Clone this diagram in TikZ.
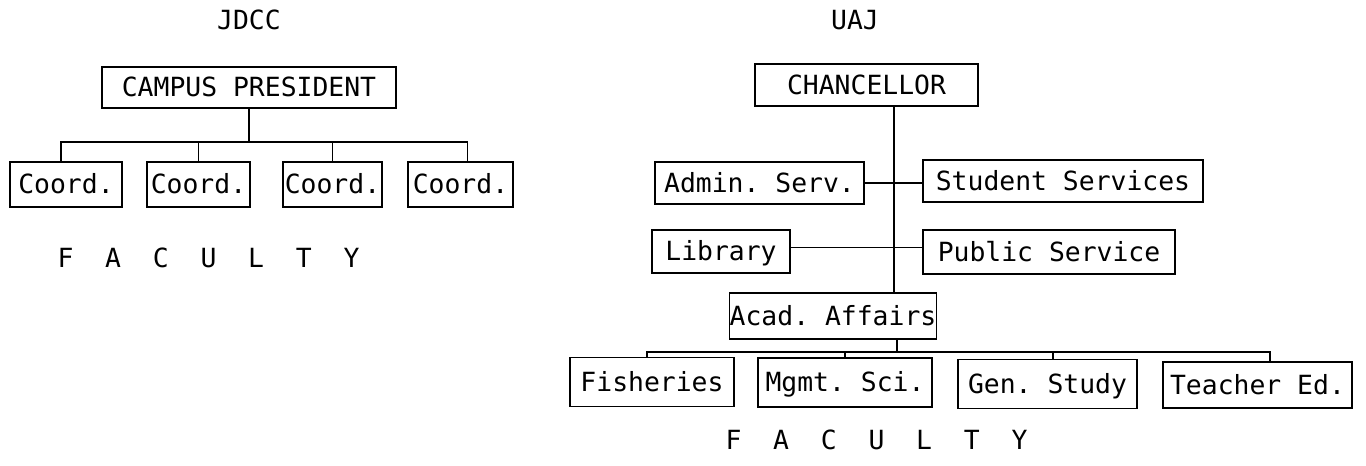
\documentclass[tikz,border=0pt]{standalone}
\usepackage{fontspec}
\setmonofont{DejaVu Sans Mono}
\begin{document}
\begin{tikzpicture}[x=0.5pt,y=-0.5pt,
  every node/.style={font=\ttfamily\fontsize{13.2pt}{15pt}\selectfont, inner sep=0pt},
  box/.style={draw, line width=0.6pt, minimum width=#1*0.5pt, text height=10pt, text depth=0.6pt},
  box/.default=100,
  conn/.style={line width=0.6pt},
  lbl/.style={}]
\useasboundingbox (0,0) rectangle (1366,466);
% ---------- JDCC ----------
\node[lbl] (jdcc) at (249,20) {JDCC};
\node[box=294, minimum height=20.5pt] (pres) at (249,87.5) {CAMPUS PRESIDENT};
\node[box=112, minimum height=22.5pt] (c1) at (66,184.5) {Coord.};
\node[box=103, minimum height=22.5pt] (c2) at (198.5,184.5) {Coord.};
\node[box=99, minimum height=22.5pt] (c3) at (332.5,184.5) {Coord.};
\node[box=105, minimum height=22.5pt] (c4) at (460.5,184.5) {Coord.};
\node[lbl] (fac1) at (208.5,258) {F~~A~~C~~U~~L~~T~~Y};
\coordinate (jbar) at (0,142);
\draw[conn] (pres.south) -- (pres.south |- jbar);
\draw[conn] ([xshift=-2.5pt]c1.north) -- ([xshift=-2.5pt]c1.north |- jbar) -- ([xshift=3.5pt]c4.north |- jbar) -- ([xshift=3.5pt]c4.north);
\draw[conn] (c2.north) -- (c2.north |- jbar);
\draw[conn] (c3.north) -- (c3.north |- jbar);
% ---------- UAJ ----------
\node[lbl] (uaj) at (855,20) {UAJ};
\node[box=223, minimum height=21pt] (chan) at (866.5,85) {CHANCELLOR};
\node[box=209, minimum height=21pt] (admin) at (759.5,183) {Admin. Serv.};
\node[box=280, minimum height=21pt] (stud) at (1063,181) {Student Services};
\node[box=138, minimum height=21.5pt] (lib) at (721,251.5) {Library};
\node[box=252, minimum height=22pt] (pub) at (1049,252) {Public Service};
\node[box=148, minimum height=23pt] (acad) at (833,316) {Acad. Affairs};
\node[box=164, minimum height=24.5pt] (fish) at (652,382) {Fisheries};
\node[box=174, minimum height=24.5pt] (mgmt) at (845,382.5) {Mgmt. Sci.};
\node[box=179, minimum height=24.5pt] (gen) at (1047.5,384) {Gen. Study};
\node[box=189, minimum height=23pt] (teach) at (1257.5,385) {Teacher Ed.};
\node[lbl] (fac2) at (876.5,440) {F~~A~~C~~U~~L~~T~~Y};
% trunk
\coordinate (trunk) at (894,0);
\draw[conn] (chan.south -| trunk) -- (acad.north -| trunk);
\draw[conn] (admin.east) -- (stud.west |- admin.east);
\draw[conn] ([yshift=2pt]lib.east) -- ([yshift=2pt]pub.west |- lib.east);
% academic bar
\coordinate (abar) at (0,352);
\draw[conn] ([xshift=32pt]acad.south) -- ([xshift=32pt]acad.south |- abar);
\draw[conn] ([xshift=-2.5pt]fish.north) -- ([xshift=-2.5pt]fish.north |- abar) -- ([xshift=6.25pt]teach.north |- abar) -- ([xshift=6.25pt]teach.north);
\draw[conn] (mgmt.north) -- (mgmt.north |- abar);
\draw[conn] ([xshift=2.75pt]gen.north) -- ([xshift=2.75pt]gen.north |- abar);
\end{tikzpicture}
\end{document}
